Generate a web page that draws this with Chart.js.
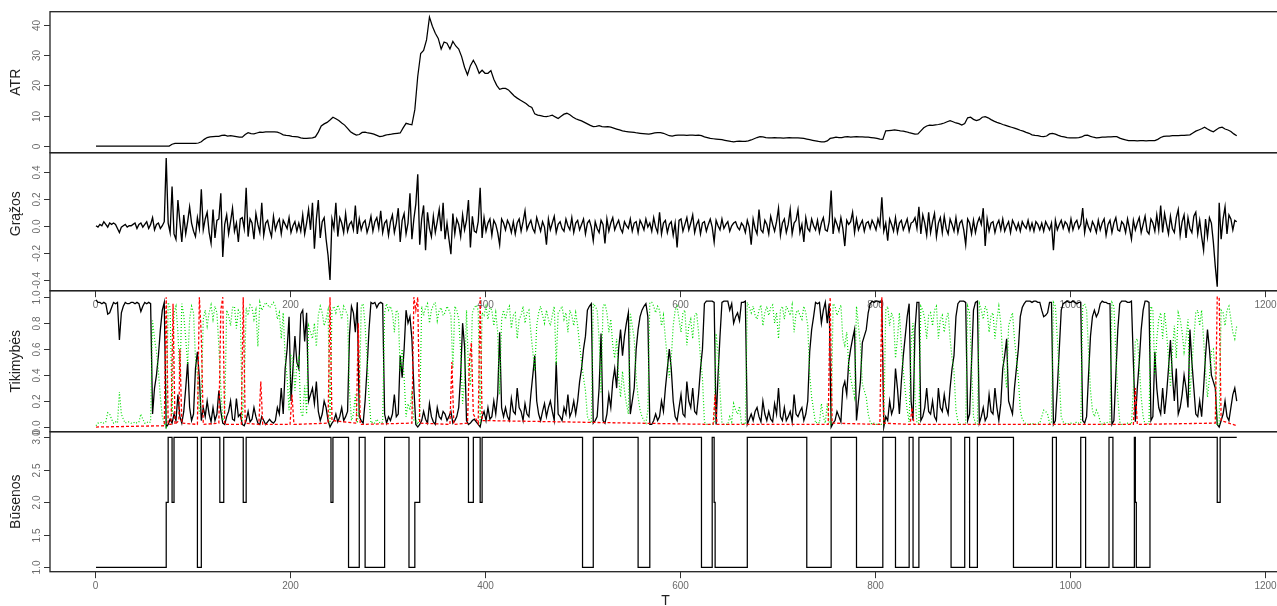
<!DOCTYPE html>
<html>
<head>
<meta charset="utf-8">
<title>ATR, grąžos, tikimybės ir būsenos</title>
<script src="https://cdn.jsdelivr.net/npm/chart.js@4.4.1/dist/chart.umd.min.js"></script>
<style>
  html, body { margin: 0; padding: 0; background: #fff; overflow: hidden; }
  #wrap { position: relative; width: 1277px; height: 606px; overflow: hidden; }
  #wrap canvas { position: absolute; left: 0; top: 0; }
</style>
</head>
<body>
<div id="wrap">
  <canvas id="pAtr" width="1282" height="606"></canvas>
  <canvas id="pRet" width="1282" height="606"></canvas>
  <canvas id="pProb" width="1282" height="606"></canvas>
  <canvas id="pState" width="1282" height="606"></canvas>
</div>
<script>
// TIME INDEX: series start at day T0; ATR kept every 3rd day, the noisy ones every 2nd
const T0 = 1;
const ATR_STEP = 3;
const STEP = 2;
const xTicks = [0, 200, 400, 600, 800, 1000, 1200];

// ATR
const atr = [
  0, 0, 0, 0, 0, 0, 0, 0, 0, 0,
  0, 0, 0, 0, 0, 0, 0, 0, 0, 0,
  0, 0, 0, 0, 0, 0, 0.6, 0.9, 0.9, 0.9,
  0.9, 0.9, 0.9, 0.9, 0.9, 1.0, 1.4, 2.2, 2.8, 3.0,
  3.1, 3.2, 3.2, 3.5, 3.6, 3.3, 3.4, 3.3, 3.1, 2.9,
  2.9, 3.8, 4.4, 4.1, 4.0, 4.3, 4.6, 4.5, 4.7, 4.7,
  4.7, 4.7, 4.6, 4.2, 3.7, 3.5, 3.4, 3.2, 3.1, 3.0,
  2.7, 2.5, 2.5, 2.6, 2.7, 3.0, 4.6, 6.6, 7.3, 7.8,
  8.6, 9.5, 9.0, 8.4, 7.6, 6.9, 5.8, 4.7, 4.1, 3.6,
  3.8, 4.5, 4.6, 4.3, 4.2, 3.9, 3.5, 3.1, 3.3, 3.6,
  3.8, 3.9, 4.1, 4.2, 4.3, 6.0, 7.5, 7.2, 7.0, 12.0,
  23, 30.5, 31.5, 35, 42.5, 39.5, 37.2, 35.5, 32, 34.3,
  33.9, 32.0, 34.5, 33.0, 32.0, 29.5, 26.0, 23.5, 26.5, 28.3,
  26.5, 24.0, 25.0, 24.0, 24.0, 24.9, 22.0, 20.0, 18.7, 19.0,
  19.0, 18.5, 17.5, 16.5, 15.8, 15.2, 14.6, 14.0, 13.2, 12.7,
  10.6, 10.2, 10.0, 9.8, 9.7, 9.9, 10.2, 9.6, 9.1, 9.8,
  10.5, 10.8, 10.3, 9.6, 9.0, 8.6, 8.3, 7.8, 7.3, 6.8,
  6.4, 6.5, 6.7, 6.4, 6.3, 6.4, 6.2, 5.9, 5.6, 5.3,
  5.0, 4.8, 4.7, 4.6, 4.5, 4.3, 4.2, 4.1, 4.0, 3.9,
  4.1, 4.3, 4.4, 4.4, 4.2, 3.8, 3.4, 3.3, 3.5, 3.6,
  3.6, 3.6, 3.5, 3.6, 3.6, 3.5, 3.6, 3.4, 3.0, 2.8,
  2.5, 2.4, 2.3, 2.2, 2.1, 1.9, 1.7, 1.5, 1.4, 1.5,
  1.6, 1.5, 1.5, 1.7, 2.0, 2.4, 2.8, 3.1, 3.0, 2.8,
  2.7, 2.7, 2.8, 2.7, 2.7, 2.6, 2.7, 2.8, 2.7, 2.7,
  2.7, 2.6, 2.5, 2.3, 2.1, 1.9, 1.7, 1.5, 1.4, 1.4,
  1.7, 2.5, 2.7, 2.9, 2.8, 2.8, 3.0, 3.1, 2.9, 3.0,
  3.1, 3.0, 3.0, 2.9, 2.9, 2.8, 2.7, 2.5, 2.3, 2.2,
  5.0, 5.1, 5.2, 5.3, 5.2, 5.0, 4.9, 4.7, 4.4, 4.2,
  3.9, 4.0, 5.0, 6.0, 6.6, 6.9, 6.8, 7.0, 7.1, 7.3,
  7.6, 8.0, 8.4, 8.0, 7.6, 7.4, 6.9, 7.4, 9.3, 9.5,
  8.8, 8.4, 8.7, 9.5, 9.7, 9.3, 8.7, 8.2, 7.8, 7.5,
  7.1, 6.8, 6.5, 6.2, 5.9, 5.6, 5.2, 4.9, 4.5, 4.2,
  3.7, 3.5, 3.4, 3.2, 3.1, 3.3, 4.0, 4.2, 3.9, 3.5,
  3.2, 3.0, 2.8, 2.7, 2.7, 2.7, 2.8, 3.0, 3.5, 3.6,
  3.2, 2.9, 2.7, 2.8, 2.9, 2.9, 3.0, 3.0, 3.1, 3.1,
  2.6, 2.3, 2.0, 1.8, 1.75, 1.75, 1.7, 1.75, 1.75, 1.7,
  1.75, 1.75, 1.8, 2.2, 2.8, 3.2, 3.3, 3.3, 3.4, 3.4,
  3.4, 3.5, 3.5, 3.6, 3.7, 4.3, 4.9, 5.3, 5.7, 6.2,
  5.6, 5.1, 4.7, 5.4, 6.0, 6.2, 5.6, 5.3, 4.8, 4.0,
  3.4
];

// RETURNS (Grąžos), one row = 30 days
const returns = [
  0.00, -0.01, 0.01, 0.00, 0.03, 0.01, -0.01, 0.02, 0.01, 0.02, 0.01, -0.02, -0.05, -0.01, 0.00,
  0.01, -0.01, 0.00, 0.00, 0.01, 0.02, -0.02, 0.01, 0.02, -0.01, 0.01, 0.03, -0.02, 0.01, 0.06,
  -0.03, 0.01, 0.02, -0.02, 0.00, 0.03, 0.50, 0.02, -0.05, 0.29, -0.06, -0.10, 0.19, 0.03, -0.12,
  0.08, -0.06, 0.03, 0.14, 0.02, -0.04, -0.08, 0.06, -0.02, 0.27, -0.03, 0.05, 0.10, -0.05, -0.13,
  0.12, -0.09, 0.04, 0.05, 0.24, -0.23, 0.01, 0.08, -0.06, 0.03, 0.13, -0.04, 0.02, -0.12, 0.05,
  0.06, -0.02, 0.28, -0.08, 0.05, 0.02, -0.10, 0.09, 0.01, -0.05, 0.17, -0.07, 0.02, 0.04, -0.03,
  -0.08, 0.07, -0.03, 0.02, 0.05, -0.06, 0.04, 0.01, -0.02, 0.06, -0.05, 0.00, 0.03, -0.04, 0.02,
  -0.04, 0.08, -0.06, 0.02, 0.12, -0.03, 0.17, -0.17, 0.05, 0.19, -0.09, 0.03, 0.06, -0.10, -0.22,
  -0.40, 0.05, -0.02, 0.17, -0.08, 0.06, 0.02, -0.05, 0.09, -0.04, 0.01, 0.03, -0.03, 0.15, -0.06,
  0.05, -0.03, 0.02, 0.04, -0.05, 0.00, 0.07, -0.04, 0.03, 0.06, -0.02, 0.11, -0.05, 0.02, 0.04,
  -0.07, 0.03, 0.08, -0.05, 0.02, 0.13, -0.12, 0.04, 0.09, -0.06, 0.02, 0.24, -0.10, 0.05, 0.16,
  0.38, -0.14, 0.05, 0.15, -0.18, 0.10, -0.02, -0.08, 0.07, -0.05, 0.03, 0.12, -0.04, 0.17, -0.10,
  0.02, -0.10, -0.21, 0.09, -0.06, 0.05, 0.01, -0.08, 0.08, -0.03, 0.04, 0.19, -0.16, 0.07, -0.04,
  -0.05, 0.03, 0.28, -0.09, 0.06, -0.04, 0.02, 0.05, -0.07, 0.04, 0.01, -0.05, -0.14, 0.05, 0.02,
  -0.03, 0.04, 0.01, -0.05, 0.03, -0.06, 0.02, 0.05, -0.04, 0.03, 0.11, -0.03, 0.01, 0.04, -0.02,
  -0.05, 0.06, 0.01, -0.04, 0.03, -0.01, -0.14, 0.05, -0.03, 0.02, 0.07, -0.05, 0.01, 0.03, -0.02,
  -0.04, 0.05, 0.00, -0.03, 0.06, -0.05, 0.02, 0.04, -0.03, 0.01, 0.05, -0.06, 0.02, 0.04, -0.01,
  -0.11, 0.03, -0.02, -0.05, 0.04, 0.01, -0.13, 0.05, -0.04, 0.02, 0.06, -0.03, 0.01, 0.04, -0.02,
  -0.05, 0.03, 0.00, -0.02, 0.05, -0.04, 0.02, 0.03, -0.05, 0.04, 0.01, -0.03, 0.05, -0.01, 0.02,
  -0.04, 0.06, -0.01, -0.05, 0.10, -0.06, 0.02, 0.04, -0.05, 0.01, 0.03, -0.07, 0.02, -0.16, 0.04,
  0.05, -0.04, 0.01, 0.06, -0.03, 0.02, 0.08, -0.05, 0.01, 0.04, -0.06, 0.02, 0.03, -0.04, 0.01,
  0.05, -0.01, -0.12, 0.04, 0.00, -0.03, 0.05, -0.02, 0.01, 0.03, -0.04, 0.00, 0.02, 0.03, -0.01,
  -0.03, 0.02, 0.00, -0.05, 0.04, -0.01, -0.14, 0.05, -0.02, -0.06, 0.12, -0.03, -0.05, 0.04, 0.01,
  -0.06, 0.07, 0.01, -0.04, 0.03, 0.13, -0.07, 0.02, 0.05, -0.05, 0.01, 0.12, -0.06, 0.02, 0.04,
  0.12, -0.05, 0.01, -0.12, 0.06, -0.02, -0.04, 0.05, 0.00, -0.03, 0.04, -0.05, 0.02, 0.06, -0.03,
  -0.04, 0.03, 0.26, -0.06, 0.05, 0.01, -0.04, 0.06, -0.02, -0.15, 0.04, 0.01, 0.03, 0.10, -0.05,
  0.05, -0.03, 0.01, 0.04, -0.04, 0.02, 0.03, -0.02, 0.04, 0.01, -0.03, 0.05, 0.00, 0.21, -0.04,
  0.02, -0.11, 0.05, 0.01, -0.04, 0.06, -0.05, 0.02, 0.04, -0.03, 0.01, 0.05, -0.04, 0.02, 0.03,
  0.06, -0.02, 0.14, -0.06, 0.08, 0.02, -0.07, 0.10, -0.05, 0.03, 0.09, -0.08, 0.02, 0.06, -0.05,
  0.07, -0.02, -0.06, 0.05, 0.01, -0.04, 0.06, -0.05, 0.02, 0.04, -0.03, -0.14, 0.05, 0.02, -0.06,
  0.04, -0.05, 0.02, 0.06, 0.01, 0.13, -0.15, 0.05, -0.04, 0.02, 0.03, -0.05, 0.01, 0.04, -0.03,
  0.05, -0.04, 0.00, 0.03, -0.05, 0.04, 0.01, -0.03, 0.02, -0.04, 0.03, 0.00, -0.02, 0.04, -0.03,
  0.02, -0.04, 0.03, 0.01, -0.03, 0.02, -0.04, 0.03, 0.00, -0.03, 0.02, -0.18, 0.04, -0.03, 0.01,
  0.04, -0.02, 0.03, 0.01, -0.04, 0.05, -0.03, 0.02, 0.04, -0.02, 0.01, 0.13, -0.05, 0.04, -0.01,
  -0.04, 0.03, 0.00, -0.05, 0.04, -0.03, 0.02, 0.05, -0.07, 0.01, 0.04, -0.05, 0.02, 0.06, -0.03,
  -0.04, 0.03, 0.01, -0.05, 0.05, -0.02, -0.10, 0.04, -0.03, 0.02, 0.06, -0.05, 0.01, 0.07, -0.04,
  -0.06, 0.05, 0.02, -0.04, 0.08, -0.03, 0.15, -0.05, 0.09, 0.01, -0.06, 0.07, -0.02, -0.05, 0.06,
  0.12, -0.07, 0.03, 0.08, -0.09, 0.06, -0.02, -0.05, 0.07, 0.10, -0.06, 0.04, -0.08, -0.18, 0.05,
  -0.08, 0.06, 0.02, -0.12, -0.30, -0.45, 0.17, -0.10, 0.05, 0.14, -0.06, 0.08, 0.05, -0.03, 0.04,
  0.03
];

// SMOOTHED PROBABILITIES (Tikimybės): state 1 (black line)
const probState1 = [
  0.98, 0.96, 0.96, 0.95, 0.96, 0.95, 0.87, 0.88, 0.92, 0.96, 0.95, 0.96, 0.67, 0.88, 0.93,
  0.96, 0.95, 0.95, 0.96, 0.96, 0.95, 0.96, 0.95, 0.89, 0.93, 0.96, 0.95, 0.96, 0.95, 0.10,
  0.30, 0.40, 0.55, 0.75, 0.90, 0.96, 0.00, 0.02, 0.06, 0.03, 0.10, 0.05, 0.25, 0.08, 0.03,
  0.12, 0.30, 0.50, 0.15, 0.05, 0.10, 0.45, 0.58, 0.38, 0.05, 0.15, 0.08, 0.20, 0.10, 0.04,
  0.15, 0.05, 0.10, 0.28, 0.12, 0.03, 0.02, 0.08, 0.12, 0.20, 0.06, 0.05, 0.22, 0.08, 0.10,
  0.02, 0.01, 0.05, 0.12, 0.04, 0.06, 0.15, 0.08, 0.03, 0.02, 0.08, 0.05, 0.02, 0.04, 0.06,
  0.04, 0.03, 0.05, 0.15, 0.10, 0.30, 0.10, 0.45, 0.60, 0.85, 0.20, 0.45, 0.70, 0.50, 0.45,
  0.87, 0.90, 0.66, 0.88, 0.20, 0.25, 0.30, 0.18, 0.35, 0.12, 0.05, 0.10, 0.20, 0.15, 0.05,
  0.00, 0.03, 0.05, 0.10, 0.04, 0.08, 0.15, 0.05, 0.08, 0.12, 0.71, 0.93, 0.88, 0.73, 0.96,
  0.08, 0.05, 0.03, 0.20, 0.45, 0.75, 0.96, 0.95, 0.96, 0.92, 0.95, 0.96, 0.95, 0.10, 0.03,
  0.08, 0.05, 0.10, 0.25, 0.08, 0.10, 0.55, 0.38, 0.60, 0.90, 0.80, 0.85, 0.68, 0.30, 0.02,
  0.00, 0.02, 0.05, 0.12, 0.06, 0.03, 0.18, 0.08, 0.04, 0.02, 0.15, 0.08, 0.06, 0.12, 0.10,
  0.05, 0.08, 0.12, 0.03, 0.05, 0.08, 0.15, 0.40, 0.80, 0.62, 0.05, 0.02, 0.03, 0.05, 0.06,
  0.04, 0.02, 0.00, 0.08, 0.12, 0.05, 0.15, 0.06, 0.08, 0.20, 0.10, 0.25, 0.73, 0.15, 0.08,
  0.15, 0.08, 0.05, 0.22, 0.12, 0.10, 0.30, 0.15, 0.12, 0.05, 0.18, 0.10, 0.08, 0.25, 0.40,
  0.55, 0.20, 0.10, 0.05, 0.12, 0.18, 0.08, 0.15, 0.20, 0.12, 0.05, 0.50, 0.10, 0.08, 0.05,
  0.15, 0.10, 0.25, 0.08, 0.12, 0.20, 0.10, 0.20, 0.35, 0.45, 0.60, 0.70, 0.90, 0.93, 0.95,
  0.03, 0.05, 0.08, 0.30, 0.72, 0.05, 0.03, 0.10, 0.25, 0.15, 0.35, 0.45, 0.30, 0.60, 0.75,
  0.55, 0.70, 0.80, 0.88, 0.10, 0.20, 0.30, 0.60, 0.75, 0.85, 0.90, 0.93, 0.95, 0.85, 0.02,
  0.02, 0.05, 0.10, 0.05, 0.08, 0.20, 0.12, 0.30, 0.45, 0.60, 0.45, 0.20, 0.08, 0.05, 0.15,
  0.25, 0.10, 0.08, 0.35, 0.20, 0.15, 0.30, 0.12, 0.10, 0.25, 0.45, 0.60, 0.95, 0.97, 0.97,
  0.97, 0.97, 0.96, 0.02, 0.40, 0.70, 0.96, 0.97, 0.97, 0.97, 0.90, 0.95, 0.80, 0.85, 0.88,
  0.82, 0.96, 0.96, 0.97, 0.02, 0.06, 0.10, 0.05, 0.12, 0.15, 0.08, 0.04, 0.20, 0.10, 0.05,
  0.12, 0.06, 0.04, 0.18, 0.10, 0.30, 0.08, 0.05, 0.15, 0.05, 0.08, 0.12, 0.04, 0.25, 0.10,
  0.08, 0.12, 0.15, 0.05, 0.10, 0.20, 0.58, 0.75, 0.85, 0.96, 0.95, 0.96, 0.80, 0.90, 0.96,
  0.80, 0.95, 0.00, 0.03, 0.05, 0.12, 0.08, 0.04, 0.30, 0.35, 0.25, 0.50, 0.60, 0.68, 0.75,
  0.05, 0.20, 0.35, 0.65, 0.70, 0.75, 0.88, 0.95, 0.97, 0.96, 0.97, 0.97, 0.96, 0.97, 0.00,
  0.08, 0.05, 0.20, 0.10, 0.15, 0.45, 0.30, 0.10, 0.35, 0.55, 0.70, 0.85, 0.95, 0.20, 0.05,
  0.75, 0.96, 0.96, 0.05, 0.08, 0.15, 0.30, 0.12, 0.10, 0.20, 0.08, 0.05, 0.30, 0.15, 0.12,
  0.25, 0.15, 0.10, 0.30, 0.45, 0.55, 0.85, 0.95, 0.97, 0.97, 0.97, 0.96, 0.05, 0.10, 0.50,
  0.90, 0.96, 0.97, 0.03, 0.08, 0.15, 0.05, 0.08, 0.25, 0.12, 0.10, 0.30, 0.15, 0.05, 0.18,
  0.45, 0.55, 0.68, 0.20, 0.15, 0.10, 0.30, 0.45, 0.60, 0.85, 0.92, 0.95, 0.97, 0.97, 0.97,
  0.96, 0.97, 0.97, 0.96, 0.96, 0.90, 0.85, 0.86, 0.88, 0.96, 0.96, 0.02, 0.05, 0.30, 0.60,
  0.90, 0.95, 0.96, 0.97, 0.96, 0.96, 0.97, 0.96, 0.95, 0.96, 0.96, 0.05, 0.03, 0.08, 0.40,
  0.70, 0.85, 0.90, 0.85, 0.88, 0.95, 0.97, 0.96, 0.96, 0.95, 0.95, 0.02, 0.05, 0.40, 0.75,
  0.95, 0.97, 0.97, 0.97, 0.96, 0.96, 0.97, 0.50, 0.04, 0.30, 0.50, 0.75, 0.90, 0.97, 0.97,
  0.96, 0.05, 0.08, 0.58, 0.30, 0.15, 0.10, 0.30, 0.10, 0.25, 0.45, 0.67, 0.40, 0.20, 0.45,
  0.10, 0.15, 0.25, 0.40, 0.30, 0.15, 0.75, 0.50, 0.30, 0.10, 0.08, 0.20, 0.08, 0.30, 0.55,
  0.75, 0.60, 0.40, 0.35, 0.30, 0.02, 0.00, 0.05, 0.10, 0.20, 0.08, 0.05, 0.15, 0.25, 0.30,
  0.20
];

// state 3 (green dotted line)
const probState3 = [
  0.01, 0.03, 0.03, 0.04, 0.03, 0.04, 0.11, 0.10, 0.06, 0.03, 0.04, 0.03, 0.27, 0.10, 0.06,
  0.03, 0.04, 0.04, 0.03, 0.03, 0.04, 0.03, 0.04, 0.10, 0.06, 0.03, 0.04, 0.03, 0.04, 0.82,
  0.68, 0.58, 0.43, 0.23, 0.08, 0.03, 0.00, 0.96, 0.92, 0.10, 0.88, 0.93, 0.73, 0.35, 0.95,
  0.86, 0.68, 0.48, 0.83, 0.93, 0.88, 0.53, 0.40, 0.10, 0.25, 0.83, 0.90, 0.78, 0.88, 0.94,
  0.83, 0.93, 0.88, 0.62, 0.30, 0.05, 0.10, 0.90, 0.86, 0.78, 0.92, 0.93, 0.76, 0.90, 0.88,
  0.05, 0.30, 0.92, 0.86, 0.94, 0.92, 0.83, 0.90, 0.62, 0.96, 0.90, 0.93, 0.96, 0.94, 0.92,
  0.94, 0.96, 0.93, 0.83, 0.88, 0.68, 0.88, 0.53, 0.38, 0.13, 0.55, 0.53, 0.28, 0.48, 0.53,
  0.12, 0.08, 0.32, 0.10, 0.78, 0.73, 0.68, 0.80, 0.62, 0.86, 0.93, 0.88, 0.78, 0.83, 0.90,
  0.02, 0.90, 0.93, 0.88, 0.94, 0.90, 0.83, 0.93, 0.90, 0.86, 0.27, 0.05, 0.10, 0.25, 0.03,
  0.15, 0.93, 0.95, 0.78, 0.53, 0.23, 0.03, 0.04, 0.03, 0.06, 0.04, 0.03, 0.04, 0.88, 0.95,
  0.90, 0.93, 0.88, 0.73, 0.90, 0.88, 0.43, 0.60, 0.38, 0.08, 0.18, 0.13, 0.28, 0.05, 0.05,
  0.02, 0.10, 0.93, 0.86, 0.92, 0.95, 0.80, 0.90, 0.94, 0.96, 0.82, 0.90, 0.92, 0.86, 0.88,
  0.93, 0.90, 0.86, 0.45, 0.93, 0.90, 0.83, 0.58, 0.18, 0.36, 0.90, 0.45, 0.32, 0.88, 0.92,
  0.94, 0.90, 0.02, 0.88, 0.86, 0.93, 0.83, 0.92, 0.90, 0.78, 0.88, 0.73, 0.25, 0.83, 0.90,
  0.83, 0.90, 0.93, 0.76, 0.86, 0.88, 0.68, 0.83, 0.86, 0.93, 0.80, 0.88, 0.90, 0.73, 0.58,
  0.43, 0.78, 0.88, 0.93, 0.86, 0.80, 0.90, 0.83, 0.78, 0.86, 0.93, 0.48, 0.88, 0.90, 0.93,
  0.83, 0.88, 0.73, 0.90, 0.86, 0.78, 0.88, 0.78, 0.63, 0.50, 0.38, 0.28, 0.08, 0.05, 0.03,
  0.95, 0.93, 0.90, 0.68, 0.26, 0.93, 0.95, 0.88, 0.73, 0.83, 0.63, 0.53, 0.68, 0.38, 0.23,
  0.43, 0.28, 0.18, 0.10, 0.88, 0.78, 0.68, 0.38, 0.23, 0.13, 0.08, 0.05, 0.03, 0.13, 0.96,
  0.96, 0.93, 0.88, 0.93, 0.90, 0.78, 0.86, 0.68, 0.53, 0.38, 0.53, 0.78, 0.90, 0.93, 0.83,
  0.73, 0.88, 0.90, 0.63, 0.78, 0.83, 0.68, 0.86, 0.88, 0.73, 0.53, 0.38, 0.04, 0.02, 0.02,
  0.02, 0.02, 0.03, 0.72, 0.58, 0.28, 0.03, 0.02, 0.02, 0.02, 0.08, 0.04, 0.18, 0.13, 0.10,
  0.16, 0.03, 0.03, 0.02, 0.96, 0.92, 0.88, 0.93, 0.86, 0.83, 0.90, 0.94, 0.78, 0.88, 0.93,
  0.86, 0.92, 0.94, 0.80, 0.88, 0.68, 0.90, 0.93, 0.83, 0.93, 0.90, 0.86, 0.94, 0.73, 0.88,
  0.90, 0.86, 0.83, 0.93, 0.88, 0.78, 0.40, 0.23, 0.13, 0.03, 0.04, 0.03, 0.18, 0.08, 0.03,
  0.18, 0.03, 0.02, 0.95, 0.93, 0.86, 0.90, 0.94, 0.68, 0.63, 0.73, 0.48, 0.38, 0.30, 0.23,
  0.93, 0.78, 0.63, 0.33, 0.28, 0.23, 0.10, 0.04, 0.02, 0.03, 0.02, 0.02, 0.03, 0.02, 0.02,
  0.90, 0.93, 0.78, 0.88, 0.83, 0.53, 0.68, 0.88, 0.63, 0.43, 0.28, 0.13, 0.04, 0.65, 0.80,
  0.23, 0.03, 0.03, 0.93, 0.90, 0.83, 0.68, 0.86, 0.88, 0.78, 0.90, 0.93, 0.68, 0.83, 0.86,
  0.73, 0.83, 0.88, 0.68, 0.53, 0.43, 0.13, 0.04, 0.02, 0.02, 0.02, 0.03, 0.93, 0.88, 0.48,
  0.08, 0.03, 0.02, 0.95, 0.90, 0.83, 0.93, 0.90, 0.73, 0.86, 0.88, 0.68, 0.83, 0.93, 0.80,
  0.53, 0.43, 0.30, 0.78, 0.83, 0.88, 0.68, 0.53, 0.38, 0.13, 0.06, 0.04, 0.02, 0.02, 0.02,
  0.03, 0.02, 0.02, 0.03, 0.03, 0.08, 0.13, 0.12, 0.10, 0.03, 0.03, 0.96, 0.93, 0.68, 0.38,
  0.08, 0.04, 0.03, 0.02, 0.03, 0.03, 0.02, 0.03, 0.04, 0.03, 0.03, 0.93, 0.95, 0.90, 0.58,
  0.28, 0.13, 0.08, 0.13, 0.10, 0.04, 0.02, 0.03, 0.03, 0.04, 0.04, 0.96, 0.93, 0.58, 0.23,
  0.04, 0.02, 0.02, 0.02, 0.03, 0.03, 0.02, 0.30, 0.66, 0.68, 0.48, 0.23, 0.08, 0.02, 0.02,
  0.03, 0.93, 0.90, 0.40, 0.68, 0.83, 0.88, 0.68, 0.88, 0.73, 0.53, 0.31, 0.58, 0.78, 0.53,
  0.88, 0.83, 0.73, 0.58, 0.68, 0.83, 0.23, 0.48, 0.68, 0.88, 0.90, 0.78, 0.90, 0.68, 0.43,
  0.23, 0.38, 0.58, 0.60, 0.40, 0.02, 0.02, 0.90, 0.88, 0.78, 0.90, 0.93, 0.83, 0.73, 0.68,
  0.78
];

// state 2 (red dashed) is near zero except short bursts, so it is kept as day/value pairs
const probState2Days = [
  1, 71, 73, 75, 78, 80, 82, 86, 87, 89,
  105, 107, 109, 111, 127, 129, 131, 133, 150, 152,
  154, 168, 170, 172, 200, 202, 204, 239, 241, 243,
  268, 270, 272, 325, 327, 329, 331, 333, 364, 366,
  368, 382, 384, 386, 388, 393, 395, 397, 634, 636,
  638, 752, 754, 756, 805, 807, 809, 836, 838, 840,
  1065, 1067, 1069, 1149, 1151, 1153, 1155, 1171
];
const probState2 = [
  0.00, 0.01, 1.00, 0.02, 0.02, 0.95, 0.02, 0.05, 0.60, 0.03,
  0.02, 1.00, 0.70, 0.02, 0.03, 0.90, 1.00, 0.02, 0.02, 1.00,
  0.03, 0.02, 0.35, 0.02, 0.02, 0.25, 0.02, 0.03, 1.00, 0.05,
  0.03, 0.80, 0.02, 0.03, 1.00, 0.90, 1.00, 0.03, 0.02, 0.50,
  0.02, 0.03, 0.50, 0.65, 0.10, 0.03, 1.00, 0.05, 0.02, 0.25,
  0.02, 0.02, 1.00, 0.03, 0.02, 1.00, 0.03, 0.02, 0.15, 0.02,
  0.02, 0.30, 0.02, 0.03, 1.00, 1.00, 0.05, 0.01
];

// DECODED STATES (Būsenos): day a state starts, and the state
const stateDays = [
  1, 73, 75, 79, 81, 105, 109, 128, 132, 152,
  155, 242, 244, 260, 271, 277, 297, 322, 328, 333,
  383, 388, 395, 397, 500, 511, 557, 569, 622, 633,
  635, 636, 669, 730, 755, 781, 808, 821, 835, 839,
  845, 878, 892, 897, 905, 942, 982, 986, 1011, 1016,
  1040, 1044, 1066, 1067, 1068, 1082, 1151, 1154, 1171
];
const states = [
  1, 2, 3, 2, 3, 1, 3, 2, 3, 2,
  3, 2, 3, 1, 3, 1, 3, 1, 2, 3,
  2, 3, 2, 3, 1, 3, 1, 3, 1, 3,
  2, 1, 3, 1, 3, 1, 3, 1, 3, 1,
  3, 1, 3, 1, 3, 1, 3, 1, 3, 1,
  3, 1, 3, 2, 1, 3, 2, 3, 3
];

// AXIS TICKS AND TITLES
const atrTicks = [0, 10, 20, 30, 40];
const retTicks = [-0.4, -0.2, 0, 0.2, 0.4];
const probTicks = [0, 0.2, 0.4, 0.6, 0.8, 1.0];
const stateTicks = [1, 1.5, 2, 2.5, 3];
const xTitle = "T";

// LAYOUT (px) and axis limits
const LEFT = 50, RIGHT = 1281, W = 1282, H = 606;
const X_MIN = -46.2, X_MAX = 1216.4;
const AXIS_FONT = "10px 'Liberation Sans', Arial, sans-serif";
const TITLE_FONT = "14px 'Liberation Sans', Arial, sans-serif";

const regular = (arr, step) => arr.map((v, i) => ({ x: T0 + i * step, y: v }));
const paired = (days, vals) => days.map((d, i) => ({ x: d, y: vals[i] }));

// frame, ticks and labels drawn R-style around each panel
function axesPlugin(p) {
  return {
    id: "rAxes",
    afterDraw(chart) {
      const { ctx, chartArea: a, scales } = chart;
      ctx.save();
      ctx.strokeStyle = "#222";
      ctx.lineWidth = 1.3;
      ctx.strokeRect(a.left, a.top, a.right - a.left, a.bottom - a.top);

      ctx.font = AXIS_FONT;
      ctx.fillStyle = "#6a6a6a";
      ctx.strokeStyle = "#333";
      ctx.lineWidth = 1;
      p.yTicks.forEach(v => {
        const y = Math.round(scales.y.getPixelForValue(v)) + 0.5;
        ctx.beginPath();
        ctx.moveTo(a.left - 6, y);
        ctx.lineTo(a.left, y);
        ctx.stroke();
        ctx.save();
        ctx.translate(a.left - 12.5, y);
        ctx.rotate(-Math.PI / 2);
        ctx.textAlign = "center";
        ctx.textBaseline = "middle";
        ctx.fillText(v.toFixed(p.digits), 0, 0);
        ctx.restore();
      });

      if (p.xAxis) {
        xTicks.forEach(v => {
          const x = Math.round(scales.x.getPixelForValue(v)) + 0.5;
          ctx.beginPath();
          ctx.moveTo(x, a.bottom);
          ctx.lineTo(x, a.bottom + 6.5);
          ctx.stroke();
          ctx.textAlign = "center";
          ctx.textBaseline = "middle";
          ctx.fillText(String(v), x, a.bottom + 14.5);
        });
      }

      ctx.font = TITLE_FONT;
      ctx.fillStyle = "#222";
      ctx.save();
      ctx.translate(16.5, (a.top + a.bottom) / 2 + (p.titleShift || 0));
      ctx.rotate(-Math.PI / 2);
      ctx.textAlign = "center";
      ctx.textBaseline = "middle";
      ctx.fillText(p.title, 0, 0);
      ctx.restore();

      if (p.xTitle) {
        ctx.textAlign = "center";
        ctx.textBaseline = "middle";
        ctx.fillText(p.xTitle, (a.left + a.right) / 2, 601);
      }
      ctx.restore();
    }
  };
}

function makePanel(p, datasets) {
  return new Chart(document.getElementById(p.id), {
    type: "line",
    data: { datasets },
    options: {
      responsive: false,
      animation: false,
      devicePixelRatio: 1,
      events: [],
      layout: { padding: { left: LEFT, right: W - RIGHT, top: p.top, bottom: H - p.bottom } },
      scales: {
        x: { type: "linear", min: X_MIN, max: X_MAX, display: false },
        y: { type: "linear", min: p.yMin, max: p.yMax, display: false }
      },
      elements: { point: { radius: 0 }, line: { tension: 0 } },
      plugins: { legend: { display: false }, tooltip: { enabled: false } }
    },
    plugins: [axesPlugin(p)]
  });
}

// PANELS
makePanel(
  { id: "pAtr", title: "ATR", top: 11.7, bottom: 152.7, yMin: -2.2, yMax: 44.3, yTicks: atrTicks, digits: 0 },
  [{ data: regular(atr, ATR_STEP), borderColor: "#000", borderWidth: 1.25 }]
);

makePanel(
  { id: "pRet", title: "Grąžos", titleShift: -8, top: 152.7, bottom: 290.7, yMin: -0.48, yMax: 0.54, yTicks: retTicks, digits: 1, xAxis: true },
  [{ data: regular(returns, STEP), borderColor: "#000", borderWidth: 1.35 }]
);

makePanel(
  { id: "pProb", title: "Tikimybės", top: 290.7, bottom: 431.7, yMin: -0.036, yMax: 1.05, yTicks: probTicks, digits: 1 },
  [
    { data: paired(probState2Days, probState2), borderColor: "#ff0000", borderWidth: 1.3, borderDash: [3, 2], order: 0 },
    { data: regular(probState3, STEP), borderColor: "#00dd00", borderWidth: 1.2, borderDash: [1, 2], order: 1 },
    { data: regular(probState1, STEP), borderColor: "#000", borderWidth: 1.3, order: 2 }
  ]
);

makePanel(
  { id: "pState", title: "Būsenos", top: 431.7, bottom: 571.7, yMin: 0.932, yMax: 3.086, yTicks: stateTicks, digits: 1, xAxis: true, xTitle },
  [{ data: paired(stateDays, states), borderColor: "#000", borderWidth: 1.25, stepped: "before" }]
);
</script>
</body>
</html>
